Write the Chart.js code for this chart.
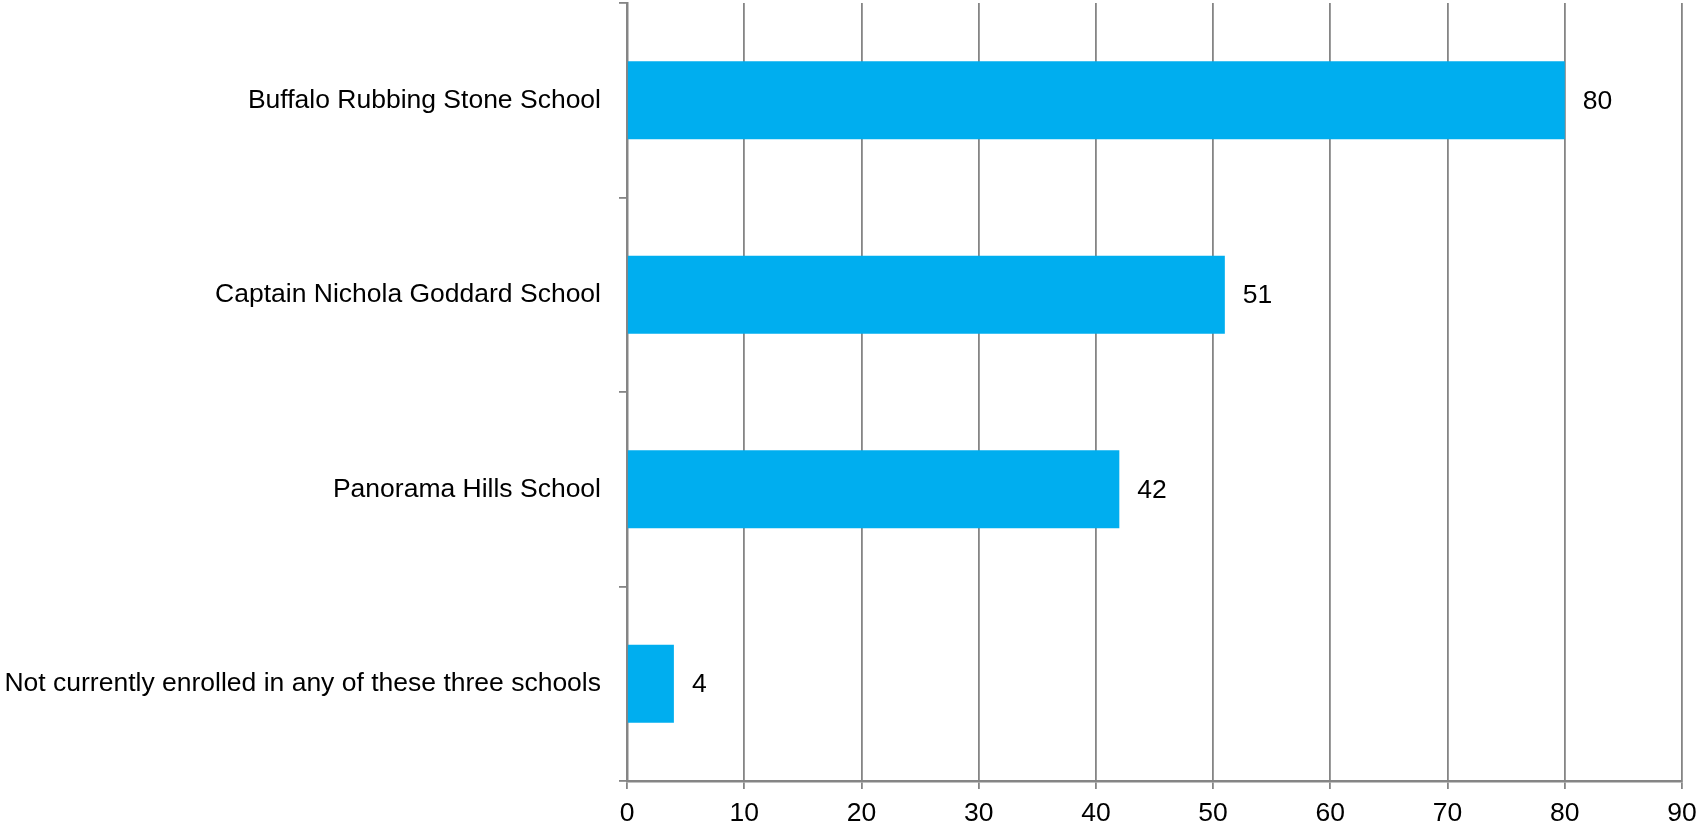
<!DOCTYPE html>
<html>
<head>
<meta charset="utf-8">
<script src="https://cdn.jsdelivr.net/npm/chart.js@4"></script>
<style>
  html, body { margin: 0; padding: 0; background: #fff; }
  #wrap { width: 1696px; height: 825px; }
</style>
</head>
<body>
<div id="wrap"><canvas id="chart"></canvas></div>
<script>
// data
const schools = [
  'Buffalo Rubbing Stone School',
  'Captain Nichola Goddard School',
  'Panorama Hills School',
  'Not currently enrolled in any of these three schools'
];
const counts = [80, 51, 42, 4];
const xMin = 0;
const xMax = 90;
const xStep = 10;

const gray = '#858585';
const font = { family: '"Liberation Sans", Arial, sans-serif', size: 26.5 };

// value labels to the right of each bar
const valueLabels = {
  id: 'valueLabels',
  afterDatasetsDraw(chart) {
    const ctx = chart.ctx;
    const meta = chart.getDatasetMeta(0);
    ctx.save();
    ctx.font = font.size + 'px ' + font.family;
    ctx.fillStyle = '#000';
    ctx.textAlign = 'left';
    ctx.textBaseline = 'middle';
    meta.data.forEach((bar, i) => {
      ctx.fillText(String(counts[i]), bar.x + 18, bar.y + 1);
    });
    ctx.restore();
  }
};

new Chart(document.getElementById('chart'), {
  type: 'bar',
  data: {
    labels: schools,
    datasets: [{
      data: counts,
      backgroundColor: '#00AEEF',
      categoryPercentage: 1,
      barPercentage: 0.4
    }]
  },
  options: {
    indexAxis: 'y',
    responsive: true,
    maintainAspectRatio: false,
    animation: false,
    layout: { padding: { top: 3, right: 14, left: 0, bottom: 0 } },
    plugins: {
      legend: { display: false },
      tooltip: { enabled: false }
    },
    scales: {
      x: {
        min: xMin,
        max: xMax,
        ticks: { stepSize: xStep, color: '#000', font: font, padding: 9 },
        grid: { color: gray, lineWidth: 1.8, tickLength: 8 },
        border: { color: gray, width: 2.5 },
        afterFit(scale) {
          scale.height = 44;
          scale.paddingLeft = 0;
          scale.paddingRight = 0;
        }
      },
      y: {
        ticks: { color: '#000', font: font, padding: 18 },
        grid: { offset: true, drawOnChartArea: false, color: gray, lineWidth: 1.8, tickLength: 8 },
        border: { color: gray, width: 2.5 },
        afterFit(scale) {
          scale.width = 627;
          scale.paddingTop = 0;
          scale.paddingBottom = 0;
        }
      }
    }
  },
  plugins: [valueLabels]
});
</script>
</body>
</html>
